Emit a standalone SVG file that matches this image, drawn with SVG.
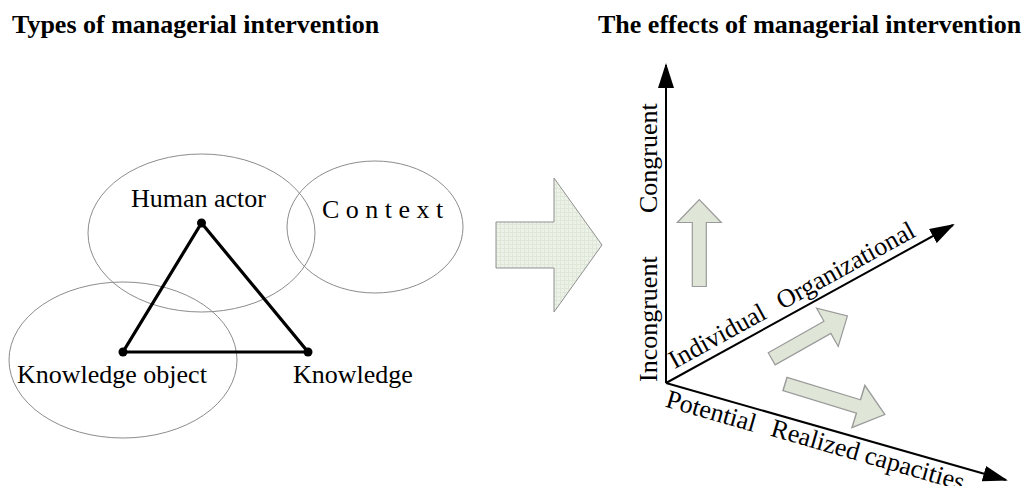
<svg xmlns="http://www.w3.org/2000/svg" width="1031" height="486" viewBox="0 0 1031 486">
  <style>
    text { font-family: "Liberation Serif", "Times New Roman", serif; fill: #000; }
    .title { font-size: 26px; font-weight: bold; }
    .lbl { font-size: 26px; }
    .oval { fill: none; stroke: #8c8c8c; stroke-width: 1; }
    .tri { fill: none; stroke: #000; stroke-width: 3.2; stroke-linejoin: miter; }
    .vertex { fill: #000; }
    .axis { stroke: #000; stroke-width: 2; fill: none; marker-end: url(#head); }
    .bigarrow { fill: url(#grid); stroke: #8f8f8f; stroke-width: 1; }
    .move { fill: #dfe6d8; stroke: #9a9a9a; stroke-width: 1.2; }
  </style>
  <defs>
    <marker id="head" viewBox="0 0 25 16" refX="23" refY="8" markerWidth="25" markerHeight="16" markerUnits="userSpaceOnUse" orient="auto">
      <path d="M0,0 L25,8 L0,16 Z" fill="#000"/>
    </marker>
    <pattern id="grid" width="4" height="4" patternUnits="userSpaceOnUse">
      <rect width="4" height="4" fill="#ecf2e8"/>
      <path d="M0,0.5 H4 M0.5,0 V4" stroke="#dfe7d9" stroke-width="1"/>
    </pattern>
    <path id="smallArrow" d="M0,-7 L64,-7 L64,-22 L87,0 L64,22 L64,7 L0,7 Z"/>
  </defs>

  <!-- headings -->
  <text class="title" x="12" y="33">Types of managerial intervention</text>
  <text class="title" x="598" y="33">The effects of managerial intervention</text>

  <!-- left panel: overlapping domains -->
  <g id="human-actor">
    <ellipse class="oval" cx="201.5" cy="233" rx="113.5" ry="79"/>
    <text class="lbl" x="131" y="207">Human actor</text>
  </g>
  <g id="context">
    <ellipse class="oval" cx="375" cy="227" rx="88" ry="66"/>
    <text class="lbl" x="322" y="218">C o n t e x t</text>
  </g>
  <g id="knowledge-object">
    <ellipse class="oval" cx="123" cy="360" rx="114" ry="78"/>
    <text class="lbl" x="17" y="383">Knowledge object</text>
  </g>
  <g id="knowledge">
    <text class="lbl" x="293" y="383">Knowledge</text>
  </g>

  <g id="connectors">
    <polygon class="tri" points="201.5,223 123,352 308,352"/>
    <circle class="vertex" cx="201.5" cy="223" r="4.5"/>
    <circle class="vertex" cx="123" cy="352" r="4.5"/>
    <circle class="vertex" cx="308" cy="352" r="4.5"/>
  </g>

  <!-- transition arrow -->
  <g id="transition">
    <polygon class="bigarrow" points="496,222 554,222 554,178 602,245 554,312 554,268 496,268"/>
  </g>

  <!-- right panel: three axes -->
  <g id="axes">
    <line class="axis" x1="666" y1="383" x2="666" y2="65"/>
    <line class="axis" x1="666" y1="383" x2="953" y2="225"/>
    <line class="axis" x1="666" y1="383" x2="1006" y2="480"/>
  </g>

  <g id="axis-congruence">
    <text class="lbl" transform="translate(657,213) rotate(-90)">Congruent</text>
    <text class="lbl" transform="translate(657,382) rotate(-90)">Incongruent</text>
  </g>
  <g id="axis-level" transform="translate(666,383) rotate(-28.8)">
    <text class="lbl" x="14" y="-8">Individual</text>
    <text class="lbl" x="137" y="-8">Organizational</text>
  </g>
  <g id="axis-capacity" transform="translate(666,383) rotate(16)">
    <text class="lbl" x="5" y="23">Potential</text>
    <text class="lbl" x="114" y="22">Realized capacities</text>
  </g>

  <!-- movement arrows -->
  <g id="shift-up">
    <use href="#smallArrow" class="move" transform="translate(699.3,286.5) rotate(-90)"/>
  </g>
  <g id="shift-organizational">
    <use href="#smallArrow" class="move" transform="translate(771.7,358.8) rotate(-29.5)"/>
  </g>
  <g id="shift-realized">
    <use href="#smallArrow" class="move" transform="translate(785,384) rotate(17) scale(1.2,1)"/>
  </g>
</svg>
